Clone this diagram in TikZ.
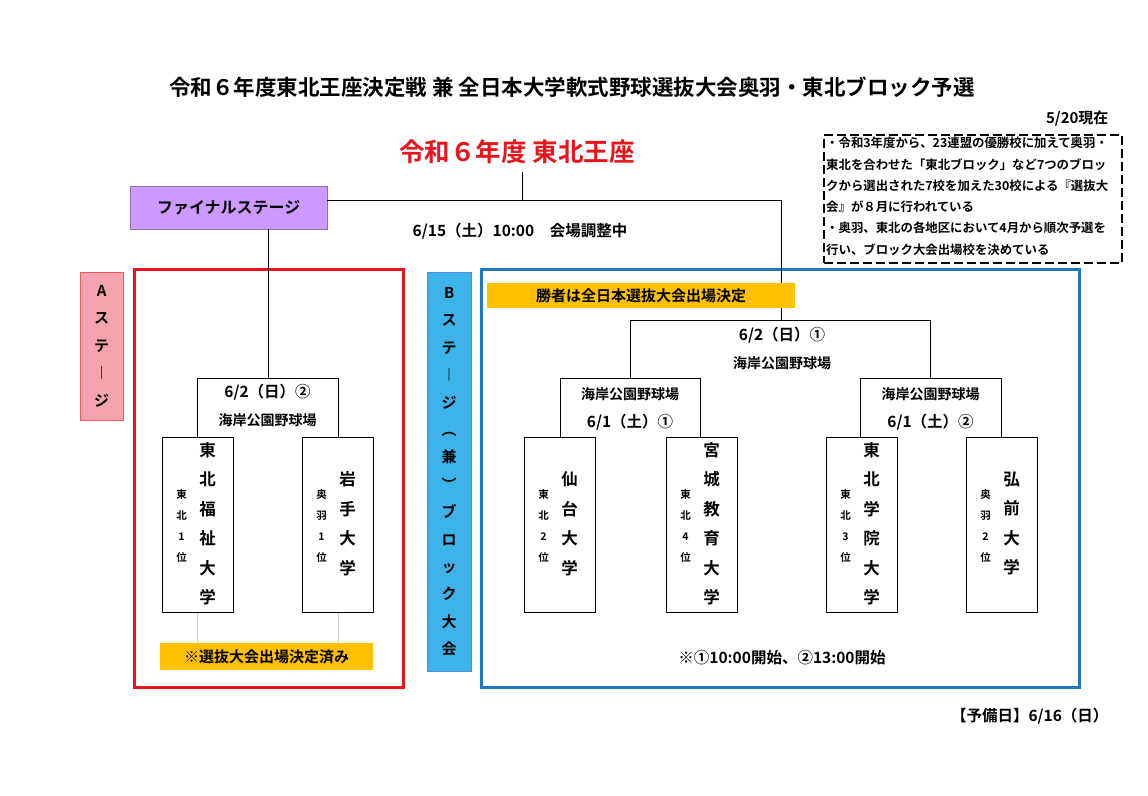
\documentclass[tikz,border=0pt]{standalone}
\usepackage{fontspec}
\setmainfont{Noto Sans CJK JP}[BoldFont={Noto Sans CJK JP Bold}]
\usetikzlibrary{positioning}
\definecolor{kiiro}{HTML}{FFC000}
\definecolor{murasaki}{HTML}{CC99FF}
\definecolor{momo}{HTML}{F4A3AC}
\definecolor{mizu}{HTML}{3DB3EA}
\definecolor{aka}{HTML}{E8141E}
\definecolor{ao}{HTML}{1F78C2}
\tikzset{
  team/.style={draw, fill=white, minimum width=71, minimum height=175, inner sep=0},
  teamname/.style={font=\bfseries\fontsize{16.5}{29.5}\selectfont, align=center, inner sep=0},
  teamrank/.style={font=\bfseries\fontsize{10.5}{21}\selectfont, align=center, inner sep=0},
  matchbox/.style={minimum width=140, minimum height=59, inner sep=0},
  matchdate/.style={font=\bfseries\fontsize{15.5}{18}\selectfont},
  venue/.style={font=\bfseries\fontsize{14}{16}\selectfont},
  band/.style={fill=kiiro, font=\bfseries\fontsize{15}{18}\selectfont, inner sep=0},
  stagetext/.style={font=\bfseries\fontsize{15}{27.5}\selectfont, align=center, inner sep=0},
}
\begin{document}
\begin{tikzpicture}[x=1pt,y=-1pt]
  \useasboundingbox (0,0) rectangle (1148,795);

  \node[font=\bfseries\fontsize{21.5}{24}\selectfont] (title) at (572,87) {令和６年度東北王座決定戦 兼 全日本大学軟式野球選抜大会奥羽・東北ブロック予選};
  \node[font=\bfseries\fontsize{15}{18}\selectfont, anchor=east] (now) at (1112,118) {5/20現在};
  \node[draw, dash pattern=on 9pt off 4pt, line width=2pt, minimum width=298, minimum height=128, anchor=north west] (notes) at (823,134) {};
  \node[font=\bfseries\fontsize{12.4}{21.3}\selectfont, align=left, anchor=north west, inner sep=0] (notetext) at (826,137) {・令和3年度から、23連盟の優勝校に加えて奥羽・\\東北を合わせた「東北ブロック」など7つのブロッ\\クから選出された7校を加えた30校による『選抜大\\会』が８月に行われている\\・奥羽、東北の各地区において4月から順次予選を\\行い、ブロック大会出場校を決めている};

  \node[text=aka, font=\bfseries\fontsize{25.5}{28}\selectfont] (crown) at (517,152) {令和６年度 東北王座};
  \node[matchdate] (final) at (520,231) {6/15（土）10:00　会場調整中};

  % stage frames
  \node[draw=aka, line width=2.5pt, minimum width=269, minimum height=418, anchor=north west] (astage) at (133,268) {};
  \node[draw=ao, line width=2.5pt, minimum width=598, minimum height=418, anchor=north west] (bstage) at (480,268) {};
  \node[draw=aka!70, fill=momo, minimum width=43, minimum height=148, anchor=north west] (alabel) at (80,272) {};
  \node[stagetext] at (alabel.center) {A\\ス\\テ\\︱\\ジ};
  \node[draw=ao!80, fill=mizu, minimum width=44, minimum height=399, anchor=north west] (blabel) at (427,272) {};
  \node[stagetext, font=\bfseries\fontsize{15}{27.4}\selectfont] at (blabel.center) {B\\ス\\テ\\︱\\ジ\\︵\\兼\\︶\\ブ\\ロ\\ッ\\ク\\大\\会};

  % final stage
  \node[draw=murasaki!70!black, fill=murasaki, minimum width=197, minimum height=43, anchor=north west, font=\bfseries\fontsize{16}{18}\selectfont] (fs) at (130,186) {ファイナルステージ};
  \coordinate (top) at (522,172);
  \coordinate (bend) at (781,200);
  \draw (top) -- (top |- bend);
  \draw (fs.east |- bend) -- (bend) -- (781,320);
  \draw (fs.south -| 268,0) -- (268,378);

  % A bracket
  \node[matchbox] (ma) at (267.5,407.5) {};
  \draw (ma.south west) |- (ma.north east) -- (ma.south east);
  \node[matchdate] at (267.5,392) {6/2（日）②};
  \node[venue] at (267.5,420) {海岸公園野球場};
  \draw[gray!40] (197,612) -- (197,643) (338,612) -- (338,643);
  \node[team] (a1) at (197.5,524.5) {};
  \node[team] (a2) at (337.5,524.5) {};
  \node[band, minimum width=213, minimum height=27, anchor=north west] (adone) at (160,643) {※選抜大会出場決定済み};

  % B bracket
  \node[band, minimum width=308, minimum height=25, anchor=north west] (bwin) at (487,283) {勝者は全日本選抜大会出場決定};
  \draw (630,378) |- (930,320) -- (930,378);
  \node[matchdate] at (782,335) {6/2（日）①};
  \node[venue] at (782,363) {海岸公園野球場};
  \node[matchbox] (mb1) at (630,407.5) {};
  \node[matchbox] (mb2) at (930.5,407.5) {};
  \foreach \m/\d in {mb1/{6/1（土）①}, mb2/{6/1（土）②}} {
    \draw (\m.south west) |- (\m.north east) -- (\m.south east);
    \node[matchdate] at ([yshift=-15]\m.center) {\d};
    \node[venue] at ([yshift=13]\m.center) {海岸公園野球場};
  }
  \node[team] (b1) at (559.5,524.5) {};
  \node[team] (b2) at (701.5,524.5) {};
  \node[team] (b3) at (861.5,524.5) {};
  \node[team] (b4) at (1001.5,524.5) {};

  % team names
  \foreach \t/\n/\r in {a1/東\\北\\福\\祉\\大\\学/東\\北\\1\\位, a2/岩\\手\\大\\学/奥\\羽\\1\\位,
      b1/仙\\台\\大\\学/東\\北\\2\\位, b2/宮\\城\\教\\育\\大\\学/東\\北\\4\\位,
      b3/東\\北\\学\\院\\大\\学/東\\北\\3\\位, b4/弘\\前\\大\\学/奥\\羽\\2\\位} {
    \node[teamname] at ([xshift=10,yshift=1]\t.center) {\n};
    \node[teamrank] at ([xshift=-16,yshift=-1]\t.center) {\r};
  }

  \node[matchdate] (times) at (782,658) {※①10:00開始、②13:00開始};
  \node[matchdate, anchor=east] (spare) at (1112,716) {【予備日】6/16（日）};
\end{tikzpicture}
\end{document}
